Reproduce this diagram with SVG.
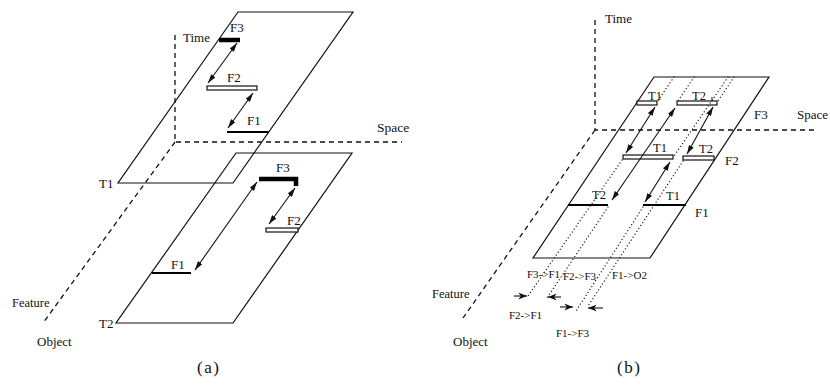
<svg xmlns="http://www.w3.org/2000/svg" width="830" height="385" viewBox="0 0 830 385">
<style>
text{font-family:"Liberation Serif","Times New Roman",serif;fill:#111;font-size:13px}
.lbl{font-size:12.5px}
.sm{font-size:11px}
.cap{font-size:17px;letter-spacing:1.5px}
.plane{fill:none;stroke:#111;stroke-width:1.2}
.axis{fill:none;stroke:#111;stroke-width:1.3;stroke-dasharray:5 4}
.thick{stroke:#000;stroke-width:4.5;fill:none}
.mid{stroke:#000;stroke-width:2.2;fill:none}
.hollow{fill:#fff;stroke:#111;stroke-width:1.2}
.arr{stroke:#111;stroke-width:1.1;fill:none;marker-start:url(#ah);marker-end:url(#ah)}
.one{stroke:#111;stroke-width:1.1;fill:none;marker-end:url(#ah2)}
.dot{stroke:#222;stroke-width:1.3;fill:none;stroke-dasharray:0.1 3.4;stroke-linecap:round}
</style>
<defs>
<marker id="ah" viewBox="0 0 10 6" refX="10" refY="3" markerWidth="9" markerHeight="5.5" markerUnits="userSpaceOnUse" orient="auto-start-reverse"><path d="M0,0 L10,3 L0,6 z" fill="#111"/></marker>
<marker id="ah2" viewBox="0 0 10 8" refX="10" refY="4" markerWidth="9" markerHeight="7" markerUnits="userSpaceOnUse" orient="auto"><path d="M0,0 L10,4 L0,8 L3,4 z" fill="#111"/></marker>
</defs>
<rect width="830" height="385" fill="#fff"/>

<!-- Panel (a) -->
<g id="axes-a">
<path class="axis" d="M175,35 V142 H402"/>
<path class="axis" d="M175,142 L43,323"/>
<text x="183" y="42">Time</text>
<text x="377" y="132" style="font-size:13.5px">Space</text>
<text x="12" y="307" class="lbl">Feature</text>
<text x="37" y="346">Object</text>
</g>
<g id="plane-a-T1">
<path class="plane" d="M238,12 H353 L233,183 H118 Z"/>
<text x="99" y="188">T1</text>
</g>
<g id="plane-a-T2">
<path class="plane" d="M236,153 H352 L233,323 H116 Z"/>
<text x="99" y="328">T2</text>
</g>
<g id="a-T1-F3">
<line class="thick" x1="219" y1="40" x2="240" y2="40"/>
<text x="230" y="32">F3</text>
</g>
<g id="a-T1-F2">
<rect class="hollow" x="207" y="86" width="50" height="4"/>
<text x="227" y="82">F2</text>
</g>
<g id="a-T1-F1">
<line class="mid" x1="227" y1="132" x2="269" y2="132"/>
<text x="247" y="125">F1</text>
</g>
<g id="a-T2-F3">
<path class="thick" d="M259,179 H296 V186"/>
<text x="276" y="172">F3</text>
</g>
<g id="a-T2-F2">
<rect class="hollow" x="266" y="228" width="32" height="4"/>
<text x="287" y="225">F2</text>
</g>
<g id="a-T2-F1">
<line class="mid" x1="152" y1="273" x2="191" y2="273"/>
<text x="171" y="269">F1</text>
</g>
<text x="197" y="373" class="cap">(a)</text>

<!-- Panel (b) -->
<g id="axes-b">
<path class="axis" d="M595,20 V130 H818"/>
<path class="axis" d="M595,130 L463,318"/>
<text x="605" y="23">Time</text>
<text x="797" y="119">Space</text>
<text x="432" y="298" class="lbl">Feature</text>
<text x="453" y="346">Object</text>
</g>
<g id="plane-b">
<path class="plane" d="M654,77 H769 L650,258 H533 Z"/>
<text x="754" y="119">F3</text>
<text x="725" y="165">F2</text>
<text x="695" y="217">F1</text>
</g>
<g id="b-F3-T1">
<rect class="hollow" x="637" y="101" width="20" height="4"/>
<text x="648" y="100" class="lbl">T1</text>
</g>
<g id="b-F3-T2">
<rect class="hollow" x="677" y="101" width="40" height="4"/>
<line stroke="#111" stroke-width="1" x1="712" y1="97" x2="712" y2="101"/>
<text x="692" y="100" class="lbl">T2</text>
</g>
<g id="b-F2-T1">
<rect class="hollow" x="623" y="155" width="50" height="4"/>
<text x="653" y="152" class="lbl">T1</text>
</g>
<g id="b-F2-T2">
<rect class="hollow" x="683" y="156" width="31" height="4"/>
<text x="699" y="153" class="lbl">T2</text>
</g>
<g id="b-F1-T2">
<line class="mid" x1="568" y1="205" x2="608" y2="205"/>
<text x="592" y="199" class="lbl">T2</text>
</g>
<g id="b-F1-T1">
<line class="mid" x1="643" y1="205" x2="686" y2="205"/>
<text x="666" y="200" class="lbl">T1</text>
</g>
<g id="b-links">
<text x="527" y="278" class="sm">F3-&gt;F1</text>
<text x="563" y="280" class="sm">F2-&gt;F3</text>
<text x="612" y="279" class="sm">F1-&gt;O2</text>
<text x="509" y="319" class="sm">F2-&gt;F1</text>
<text x="556" y="337" class="sm">F1-&gt;F3</text>
</g>
<text x="617" y="373" class="cap">(b)</text>

<g id="connectors">
<line class="arr" x1="237" y1="43" x2="208" y2="83"/>
<line class="arr" x1="253" y1="93" x2="228" y2="128"/>
<line class="arr" x1="257" y1="182" x2="195" y2="270"/>
<line class="arr" x1="295" y1="188" x2="269" y2="224"/>
<line class="arr" x1="655" y1="107" x2="626" y2="153"/>
<line class="arr" x1="675" y1="108" x2="612" y2="200"/>
<line class="arr" x1="713" y1="107" x2="687" y2="154"/>
<line class="arr" x1="670" y1="162" x2="645" y2="202"/>
<path class="dot" d="M674,77 L657,102 M622,160 L528,296"/>
<path class="dot" d="M694,77 L678,101 M608,207 L547,298"/>
<path class="dot" d="M728,77 L674,156 M643,207 L576,311"/>
<path class="dot" d="M734,77 L718,101 M683,161 L588,306"/>
<line class="one" x1="514" y1="296" x2="527" y2="296"/>
<line class="one" x1="561" y1="297" x2="548" y2="297"/>
<line class="one" x1="560" y1="307" x2="573" y2="307"/>
<line class="one" x1="603" y1="308" x2="588" y2="308"/>
</g>
</svg>
